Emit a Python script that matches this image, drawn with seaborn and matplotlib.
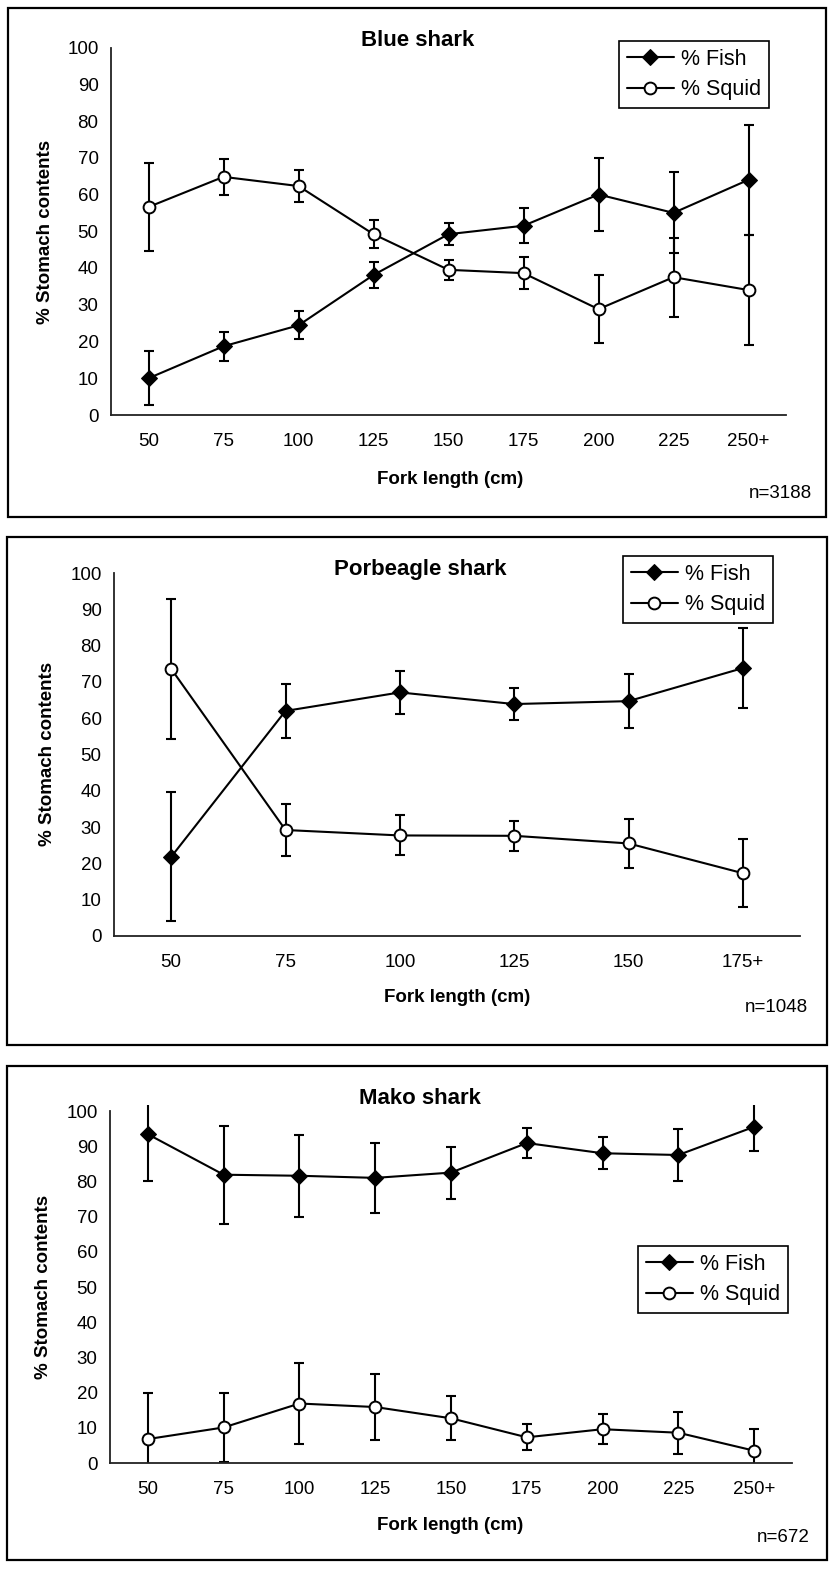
import numpy as np
import matplotlib
matplotlib.use("Agg")
import matplotlib.pyplot as plt
import seaborn as sns
from matplotlib.patches import Rectangle

# Data (mean % of stomach contents and error bar half-widths)
blue_cats = ['50', '75', '100', '125', '150', '175', '200', '225', '250+']
blue_fish = [10, 18.7, 24.4, 38.1, 49.2, 51.5, 60, 55, 64]
blue_fish_err = [7.3, 4, 3.8, 3.6, 3, 4.7, 9.8, 11, 15]
blue_squid = [56.6, 64.8, 62.3, 49.2, 39.5, 38.6, 28.8, 37.5, 34]
blue_squid_err = [12, 4.8, 4.4, 3.8, 2.7, 4.4, 9.2, 10.7, 15]

porb_cats = ['50', '75', '100', '125', '150', '175+']
porb_fish = [21.8, 62, 67.1, 63.9, 64.7, 73.8]
porb_fish_err = [17.8, 7.4, 6, 4.5, 7.5, 11]
porb_squid = [73.6, 29.2, 27.7, 27.6, 25.5, 17.3]
porb_squid_err = [19.3, 7.1, 5.5, 4.2, 6.7, 9.3]

mako_cats = ['50', '75', '100', '125', '150', '175', '200', '225', '250+']
mako_fish = [93.4, 81.9, 81.6, 81, 82.5, 90.9, 88, 87.5, 95.5]
mako_fish_err = [13.2, 13.9, 11.6, 9.9, 7.4, 4.3, 4.6, 7.3, 6.9]
mako_squid = [6.8, 10.1, 16.9, 15.9, 12.7, 7.3, 9.6, 8.6, 3.5]
mako_squid_err = [13.1, 9.8, 11.4, 9.3, 6.2, 3.7, 4.2, 6, 6.2]

titles = ['Blue shark', 'Porbeagle shark', 'Mako shark']
n_labels = ['n=3188', 'n=1048', 'n=672']

W, H = 830, 1578
YTOP = 101.7

sns.set_style('white')
plt.rcParams['font.family'] = ['Liberation Sans', 'DejaVu Sans']
plt.rcParams['text.color'] = 'black'
plt.rcParams['axes.labelcolor'] = 'black'
plt.rcParams['xtick.color'] = 'black'
plt.rcParams['ytick.color'] = 'black'

fig = plt.figure(figsize=(W / 100, H / 100), dpi=100)


def fx(x):
    return x / W


def fy(y):
    return 1 - y / H


# pixel layout of each panel
layouts = [
    dict(left=111, right=786, y0=415, y100=47.5, box=(8, 8, 826, 517),
         title=(418, 41), ylab=(45, 232), xlab=(450, 479), n=(812, 493),
         leg=(619, 41)),
    dict(left=114, right=800, y0=936, y100=573, box=(7, 537, 827, 1045),
         title=(420, 569), ylab=(47, 754), xlab=(457, 998), n=(808, 1007),
         leg=(623, 556)),
    dict(left=110, right=792, y0=1463, y100=1111, box=(7, 1066, 827, 1560),
         title=(420, 1098), ylab=(43, 1287), xlab=(450, 1525), n=(810, 1538),
         leg=(638, 1246)),
]

panels = [
    (blue_cats, blue_fish, blue_fish_err, blue_squid, blue_squid_err),
    (porb_cats, porb_fish, porb_fish_err, porb_squid, porb_squid_err),
    (mako_cats, mako_fish, mako_fish_err, mako_squid, mako_squid_err),
]

for i, (cats, fish, fish_err, squid, squid_err) in enumerate(panels):
    L = layouts[i]
    ppu = (L['y0'] - L['y100']) / 100.0
    top = L['y0'] - YTOP * ppu
    ax = fig.add_axes([fx(L['left']), fy(L['y0']),
                       (L['right'] - L['left']) / W, (L['y0'] - top) / H])
    pos = np.arange(len(cats))

    ax.errorbar(pos, fish, yerr=fish_err, fmt='none', ecolor='black',
                elinewidth=1.5, capsize=3.8, capthick=1.5, zorder=2)
    ax.errorbar(pos, squid, yerr=squid_err, fmt='none', ecolor='black',
                elinewidth=1.5, capsize=3.8, capthick=1.5, zorder=2)
    sns.lineplot(x=pos, y=fish, ax=ax, color='black', lw=1.5, marker='D',
                 markersize=8, markeredgecolor='black', errorbar=None,
                 label='% Fish', zorder=3)
    sns.lineplot(x=pos, y=squid, ax=ax, color='black', lw=1.5, marker='o',
                 markersize=8.5, markerfacecolor='white',
                 markeredgecolor='black', markeredgewidth=1.4, errorbar=None,
                 label='% Squid', zorder=3)

    ax.set_xlim(-0.5, len(cats) - 0.5)
    ax.set_ylim(0, YTOP)
    ax.set_yticks(np.arange(0, 101, 10))
    ax.set_xticks(np.arange(len(cats) + 1) - 0.5)
    ax.set_xticklabels([])
    ax.set_xticks(pos, minor=True)
    ax.set_xticklabels(cats, minor=True)
    ax.tick_params(axis='x', which='major', direction='out', length=4,
                   width=1.2, color='#222222')
    ax.tick_params(axis='x', which='minor', length=0, pad=13, labelsize=13.5)
    ax.tick_params(axis='y', direction='out', length=4, width=1.2,
                   color='#222222', pad=5, labelsize=13.5)
    for s in ['top', 'right']:
        ax.spines[s].set_visible(False)
    for s in ['left', 'bottom']:
        ax.spines[s].set_color('#222222')
        ax.spines[s].set_linewidth(1.3)
    ax.spines['left'].set_bounds(0, 100)

    ax.set_ylabel('% Stomach contents', fontsize=13.5, fontweight='bold')
    ax.yaxis.label.set_va('center')
    ax.yaxis.set_label_coords(fx(L['ylab'][0]), fy(L['ylab'][1]),
                              transform=fig.transFigure)
    ax.set_xlabel('Fork length (cm)', fontsize=13.5, fontweight='bold')
    ax.xaxis.label.set_va('center')
    ax.xaxis.set_label_coords(fx(L['xlab'][0]), fy(L['xlab'][1]),
                              transform=fig.transFigure)

    fig.text(fx(L['title'][0]), fy(L['title'][1]), titles[i], fontsize=16,
             fontweight='bold', ha='center', va='center')
    fig.text(fx(L['n'][0]), fy(L['n'][1]), n_labels[i], fontsize=13.5,
             ha='right', va='center')

    leg = ax.legend(loc='upper left',
                    bbox_to_anchor=(fx(L['leg'][0]), fy(L['leg'][1])),
                    bbox_transform=fig.transFigure, borderaxespad=0,
                    frameon=True, fancybox=False, edgecolor='black',
                    framealpha=1, fontsize=15.5, handlelength=2.2,
                    handletextpad=0.35, borderpad=0.35, labelspacing=0.45)
    leg.get_frame().set_linewidth(1.2)

    x0, y0, x1, y1 = L['box']
    fig.add_artist(Rectangle((fx(x0), fy(y1)), (x1 - x0) / W, (y1 - y0) / H,
                             transform=fig.transFigure, fill=False,
                             edgecolor='black', linewidth=1.6))

fig.savefig('out.png', dpi=100)
